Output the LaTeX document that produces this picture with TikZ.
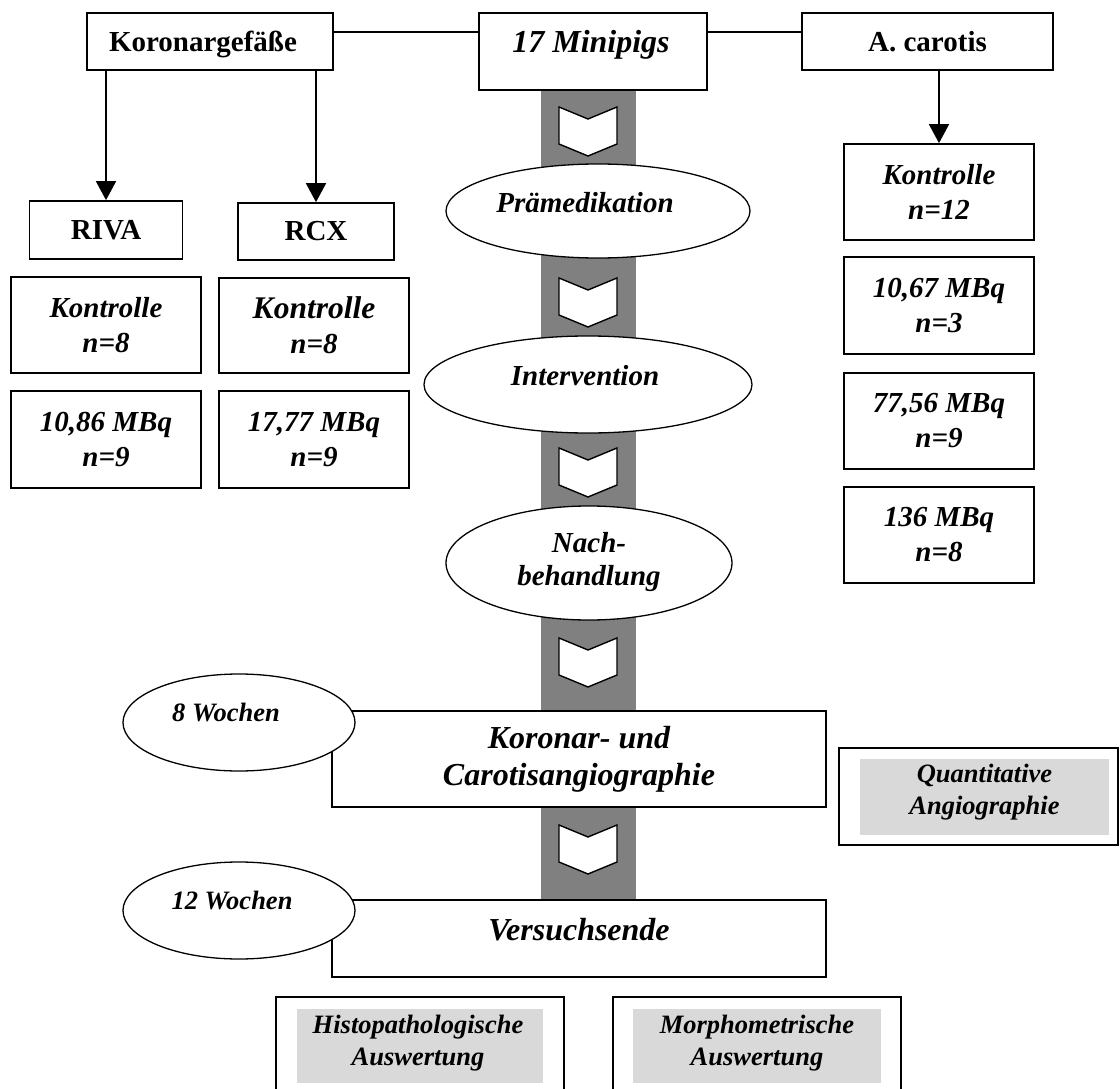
\documentclass[tikz,border=0pt]{standalone}
\usepackage{fontspec}
\setmainfont{Liberation Serif}
\usetikzlibrary{arrows.meta,shapes.geometric}
\definecolor{bargrey}{HTML}{808080}
\definecolor{lightgrey}{HTML}{D9D9D9}
\newcommand\fsz[2]{\fontsize{#1pt}{#2pt}\selectfont}
\begin{document}
\begin{tikzpicture}[x=1pt,y=-1pt,
  box/.style={draw, line width=1.7pt, inner sep=0pt, align=center, fill=white},
  elli/.style={draw, ellipse, line width=1.3pt, fill=white, inner sep=0pt, align=center},
  greybox/.style={fill=lightgrey, inner sep=0pt},
  lbl/.style={inner sep=0pt, align=center, anchor=base},
  mlbl/.style={inner sep=0pt, align=center},
  bi/.style={font=\fsz{29}{35}\bfseries\itshape},
  bu/.style={font=\fsz{29}{35}\bfseries},
  big/.style={font=\fsz{32}{37}\bfseries\itshape},
  small/.style={font=\fsz{26.5}{31.5}\bfseries\itshape},
  conn/.style={line width=1.7pt},
  arr/.style={line width=1.7pt, -{Triangle[width=20pt,length=19pt]}},
  chev/.style={draw, line width=1.4pt, fill=white, line join=miter}]
\clip (0,0) rectangle (1120,1089);
\fill[white] (0,0) rectangle (1120,1089);
% central grey bar
\node[fill=bargrey, minimum width=95pt, minimum height=810pt, inner sep=0pt] (bar) at (588.5,495) {};
\foreach \y in {107,278,448,638,825}{
  \draw[chev] (559,\y) -- (588,{\y+12}) -- (617,\y) -- (617,{\y+37}) -- (588,{\y+49}) -- (559,{\y+37}) -- cycle;
}
% top row
\node[box,minimum width=246pt,minimum height=57pt] (kor) at (210,41.5) {};
\node[lbl,bu] (kort) at (203,52) {Koronargefäße};
\node[box,minimum width=228pt,minimum height=77pt] (pigs) at (593,51.5) {};
\node[lbl,font=\fsz{32}{38}\bfseries\itshape] (pigst) at (591,53) {17 Minipigs};
\node[box,bu,minimum width=251pt,minimum height=57pt] (acar) at (927.5,41.5) {A. carotis};
\coordinate (ly) at (0,32);
\draw[conn] (kor.east |- ly) -- (pigs.west |- ly);
\draw[conn] (pigs.east |- ly) -- (acar.west |- ly);
% left columns
\node[box,bu,minimum width=153pt,minimum height=58pt] (riva) at (106,230) {RIVA};
\node[box,bu,minimum width=156pt,minimum height=57pt] (rcx) at (316,231.5) {RCX};
\draw[arr] (kor.south -| riva.north) -- (riva.north);
\draw[arr] (kor.south -| rcx.north) -- (rcx.north);
\node[box,bi,minimum width=190pt,minimum height=96pt] (rivak) at (106,325) {Kontrolle\\n=8};
\node[box,bi,minimum width=190pt,minimum height=95pt] (rcxk) at (314,325.5) {{\fsz{31.5}{36}Kontrolle}\\n=8};
\node[box,bi,minimum width=190pt,minimum height=97pt] (rivad) at (106,439.5) {10,86 MBq\\n=9};
\node[box,bi,minimum width=190pt,minimum height=97pt] (rcxd) at (314,439.5) {17,77 MBq\\n=9};
% right column
\node[box,bi,minimum width=190pt,minimum height=96pt] (k12) at (939,192) {Kontrolle\\n=12};
\draw[arr] (acar.south -| k12.north) -- (k12.north);
\node[box,bi,minimum width=190pt,minimum height=97pt] (d1) at (939,305.5) {10,67 MBq\\n=3};
\node[box,bi,minimum width=190pt,minimum height=96pt] (d2) at (939,421) {77,56 MBq\\n=9};
\node[box,bi,minimum width=190pt,minimum height=96pt] (d3) at (939,535) {136 MBq\\n=8};
% central ellipses
\node[elli,minimum width=304pt,minimum height=94pt] (praem) at (598,211) {};
\node[lbl,bi] (praemt) at (585,213) {Prämedikation};
\node[elli,minimum width=328pt,minimum height=97pt] (interv) at (588,384.5) {};
\node[lbl,bi] (intervt) at (585,385) {Intervention};
\node[elli,minimum width=286pt,minimum height=114pt] (nach) at (589,563) {};
\node[mlbl,font=\fsz{29}{33}\bfseries\itshape] (nacht) at (589,562) {Nach-\\behandlung};
% angiography
\node[box,big,minimum width=494pt,minimum height=96pt] (angio) at (579,759) {Koronar- und\\Carotisangiographie};
\node[elli,minimum width=232pt,minimum height=97pt] (w8) at (239,722.5) {};
\node[lbl,small] (w8t) at (226,721) {8 Wochen};
\node[box,minimum width=279pt,minimum height=97pt] (quant) at (978.5,796.5) {};
\node[greybox,minimum width=249pt,minimum height=76pt] (quanti) at (984.5,797) {};
\node[mlbl,small] (quantt) at (984.5,792) {Quantitative\\Angiographie};
% end
\node[box,minimum width=494pt,minimum height=77pt] (ende) at (579,938.5) {};
\node[lbl,big] (endet) at (579,940) {Versuchsende};
\node[elli,minimum width=232pt,minimum height=97pt] (w12) at (239,910.5) {};
\node[lbl,small] (w12t) at (232,909) {12 Wochen};
% bottom boxes
\node[box,minimum width=288pt,minimum height=103pt] (histo) at (420,1048.5) {};
\node[greybox,minimum width=246pt,minimum height=74pt] (histoi) at (420,1046) {};
\node[mlbl,small] (histot) at (418,1043) {Histopathologische\\Auswertung};
\node[box,minimum width=288pt,minimum height=103pt] (morph) at (757,1048.5) {};
\node[greybox,minimum width=248pt,minimum height=74pt] (morphi) at (757,1046) {};
\node[mlbl,small] (morpht) at (757,1043) {Morphometrische\\Auswertung};
\end{tikzpicture}
\end{document}
